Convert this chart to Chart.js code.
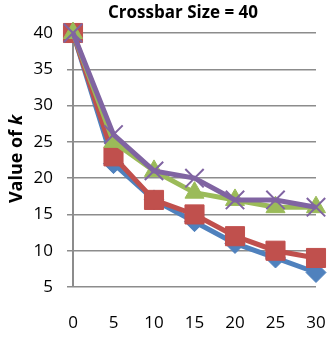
<!DOCTYPE html>
<html>
<head>
<meta charset="utf-8">
<script src="https://cdn.jsdelivr.net/npm/chart.js@4/dist/chart.umd.min.js"></script>
<style>
  html, body { margin: 0; padding: 0; background: #fff; }
  #wrap { width: 331px; height: 363px; position: relative; }
</style>
</head>
<body>
<div id="wrap"><canvas id="c"></canvas></div>
<script>
// Crossbar length values along the x axis
const crossbarX = [0, 5, 10, 15, 20, 25, 30];
// Value of k for each series
const seriesBlue   = [40, 22, 17, 14, 11, 9, 7];
const seriesRed    = [40, 23, 17, 15, 12, 10, 9];
const seriesGreen  = [40, 25, 21, 18, 17, 16, 16];
const seriesPurple = [40, 26, 21, 20, 17, 17, 16];
const yTicks = [5, 10, 15, 20, 25, 30, 35, 40];
const chartTitle = 'Crossbar Size = 40';

const FONT = "'Open Sans', 'Liberation Sans', sans-serif";
const GRID = '#8c8c8c';

function pts(vals) { return crossbarX.map((x, i) => ({ x: x, y: vals[i] })); }

function series(vals, color, style, radius, order) {
  return {
    data: pts(vals),
    borderColor: color,
    backgroundColor: color,
    pointBorderColor: color,
    pointBackgroundColor: color,
    borderWidth: 5,
    pointStyle: style,
    pointRadius: radius,
    pointBorderWidth: style === 'crossRot' ? 2 : 1,
    tension: 0,
    clip: false,
    order: order
  };
}

// Title and the rotated y-axis caption with an italic "k"
const captions = {
  id: 'captions',
  afterDraw(chart) {
    const ctx = chart.ctx;
    ctx.save();
    ctx.fillStyle = '#000';
    ctx.font = "bold 17px " + FONT;
    ctx.textAlign = 'center';
    ctx.textBaseline = 'middle';
    ctx.fillText(chartTitle, 183, 13);

    const main = 'Value of ';
    const ital = 'k';
    const fMain = "bold 18px " + FONT;
    const fItal = "italic bold 18px " + FONT;
    ctx.font = fMain;
    const w1 = ctx.measureText(main).width;
    ctx.font = fItal;
    const w2 = ctx.measureText(ital).width;
    const total = w1 + w2;
    ctx.translate(17, 159);
    ctx.rotate(-Math.PI / 2);
    ctx.textAlign = 'left';
    ctx.font = fMain;
    ctx.fillText(main, -total / 2, 0);
    ctx.font = fItal;
    ctx.fillText(ital, -total / 2 + w1, 0);
    ctx.restore();
  }
};

new Chart(document.getElementById('c'), {
  type: 'line',
  data: {
    datasets: [
      series(seriesBlue, '#4F81BD', 'rectRot', 10, 4),
      series(seriesRed, '#C0504D', 'rect', 13.5, 3),
      series(seriesGreen, '#9BBB59', 'triangle', 11, 2),
      series(seriesPurple, '#8064A2', 'crossRot', 13, 1)
    ]
  },
  options: {
    responsive: true,
    maintainAspectRatio: false,
    animation: false,
    layout: { padding: { top: 33, right: 13, left: 0, bottom: 0 } },
    plugins: {
      legend: { display: false },
      tooltip: { enabled: false },
      title: { display: false }
    },
    scales: {
      x: {
        type: 'linear',
        min: 0,
        max: 30,
        afterBuildTicks(scale) { scale.ticks = crossbarX.map(v => ({ value: v })); },
        grid: { display: false },
        border: { display: false },
        ticks: { color: '#000', font: { family: FONT, size: 17 }, padding: 18, maxRotation: 0 },
        afterFit(scale) {
          scale.height = 76;
          scale.paddingLeft = 0;
          scale.paddingRight = 0;
        }
      },
      y: {
        min: 5,
        max: 40,
        afterBuildTicks(scale) { scale.ticks = yTicks.map(v => ({ value: v })); },
        grid: { color: GRID, lineWidth: 1.5, tickLength: 6, drawTicks: true },
        border: { display: true, color: GRID, width: 2 },
        ticks: { color: '#000', font: { family: FONT, size: 17 }, padding: 14 },
        afterFit(scale) { scale.width = 73; }
      }
    }
  },
  plugins: [captions]
});
</script>
</body>
</html>
